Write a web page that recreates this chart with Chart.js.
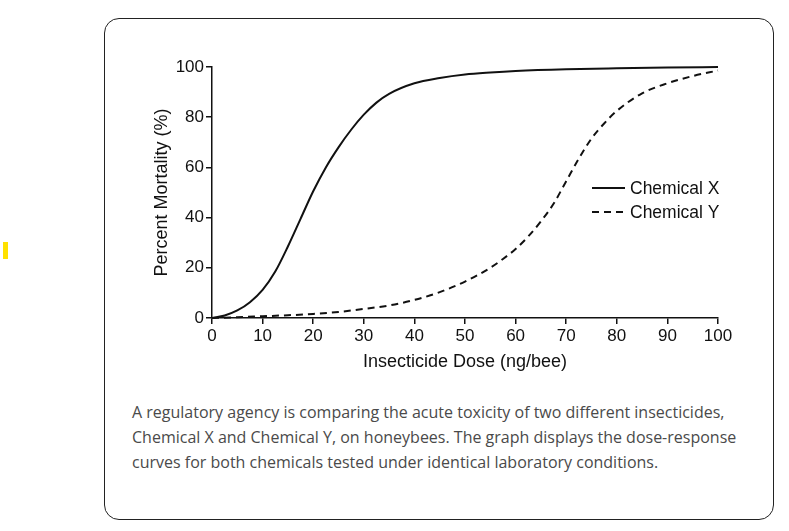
<!DOCTYPE html>
<html>
<head>
<meta charset="utf-8">
<script src="https://cdn.jsdelivr.net/npm/chart.js@4.4.1/dist/chart.umd.min.js"></script>
<style>
  html, body { margin: 0; padding: 0; background: #fff; width: 789px; height: 531px; overflow: hidden; }
  .marca { position: absolute; left: 3px; top: 242px; width: 5px; height: 17px; background: #ffe100; }
  .cartao {
    position: absolute; left: 104px; top: 18px; width: 668px; height: 500px;
    border: 1px solid #222; border-radius: 15px; background: #fff;
  }
  .grafico { position: absolute; left: 140px; top: 40px; width: 600px; height: 340px; }
  .legenda-texto {
    position: absolute; left: 132px; top: 400px; width: 620px;
    font-family: "Open Sans", sans-serif; font-size: 16px; line-height: 25px; color: #4a4a4a;
  }
</style>
</head>
<body>
<div class="marca"></div>
<div class="cartao"></div>
<div class="grafico"><canvas id="graficoDose"></canvas></div>
<div class="legenda-texto">A regulatory agency is comparing the acute toxicity of two different insecticides, Chemical X and Chemical Y, on honeybees. The graph displays the dose-response curves for both chemicals tested under identical laboratory conditions.</div>
<script>
// Dados (dose em ng/bee, mortalidade em %)
const dosesX = [0, 2.5, 5, 7.5, 10, 12.5, 15, 17.5, 20, 22.5, 25, 27.5, 30, 32.5, 35, 40, 45, 50, 55, 60, 70, 80, 90, 100];
const mortalidadeX = [0, 1.0, 3.0, 6.3, 11.2, 18.5, 28.5, 39.5, 50.5, 60, 68, 75, 81, 85.8, 89.3, 93.5, 95.6, 97, 97.8, 98.4, 99.1, 99.5, 99.8, 100];

const dosesY = [0, 5, 10, 15, 20, 25, 30, 35, 40, 45, 50, 55, 57.5, 60, 62.5, 65, 67.5, 70, 72.5, 75, 77.5, 80, 85, 90, 95, 100];
const mortalidadeY = [0, 0.3, 0.7, 1.1, 1.6, 2.4, 3.6, 5.0, 7.2, 10.3, 14.5, 20, 23.5, 27.5, 32.5, 38.5, 45.5, 54.5, 63.5, 71.5, 77.5, 82.5, 89.5, 93.5, 96.4, 98.6];

const ticksX = [0, 10, 20, 30, 40, 50, 60, 70, 80, 90, 100];
const ticksY = [0, 20, 40, 60, 80, 100];

const nomesSeries = ['Chemical X', 'Chemical Y'];

const fonte = '"Liberation Sans", Arial, sans-serif';
const corTexto = '#111';

function pares(xs, ys) {
    return xs.map((x, i) => ({ x: x, y: ys[i] }));
}

// Legenda desenhada dentro da área do gráfico
const legendaInterna = {
    id: 'legendaInterna',
    afterDraw(chart) {
        const { ctx, chartArea } = chart;
        const x0 = chartArea.right - 126;
        const tracos = [[], [7, 5]];
        ctx.save();
        ctx.font = '17.5px ' + fonte;
        ctx.fillStyle = corTexto;
        ctx.textBaseline = 'middle';
        nomesSeries.forEach((nome, i) => {
            const y = chartArea.top + 121 + i * 24;
            ctx.beginPath();
            ctx.setLineDash(tracos[i]);
            ctx.strokeStyle = corTexto;
            ctx.lineWidth = 2;
            ctx.moveTo(x0, y);
            ctx.lineTo(x0 + 33, y);
            ctx.stroke();
            ctx.setLineDash([]);
            ctx.fillText(nome, x0 + 38, y + 1);
        });
        ctx.restore();
    }
};

const ctx = document.getElementById('graficoDose').getContext('2d');

new Chart(ctx, {
    type: 'line',
    data: {
        datasets: [
            {
                label: nomesSeries[0],
                data: pares(dosesX, mortalidadeX),
                borderColor: corTexto,
                borderWidth: 2,
                pointRadius: 0,
                cubicInterpolationMode: 'monotone',
                fill: false,
                clip: false
            },
            {
                label: nomesSeries[1],
                data: pares(dosesY, mortalidadeY),
                borderColor: corTexto,
                borderWidth: 2,
                borderDash: [7, 5],
                pointRadius: 0,
                cubicInterpolationMode: 'monotone',
                fill: false,
                clip: false
            }
        ]
    },
    options: {
        responsive: true,
        maintainAspectRatio: false,
        animation: false,
        layout: { padding: { left: 7, right: 22, top: 27, bottom: 3 } },
        plugins: {
            legend: { display: false },
            tooltip: { enabled: false }
        },
        scales: {
            x: {
                type: 'linear',
                min: 0,
                max: 100,
                afterBuildTicks: (scale) => { scale.ticks = ticksX.map(v => ({ value: v })); },
                afterFit: (scale) => { scale.height = 59; },
                border: { display: true, color: corTexto, width: 1.5 },
                grid: { drawOnChartArea: false, drawTicks: true, tickLength: 6, color: corTexto, lineWidth: 1.5 },
                ticks: { color: corTexto, padding: 2, maxRotation: 0, font: { family: fonte, size: 17 } },
                title: {
                    display: true,
                    text: 'Insecticide Dose (ng/bee)',
                    color: corTexto,
                    font: { family: fonte, size: 18 }
                }
            },
            y: {
                min: 0,
                max: 100,
                afterBuildTicks: (scale) => { scale.ticks = ticksY.map(v => ({ value: v })); },
                afterFit: (scale) => { scale.width = 65; },
                border: { display: true, color: corTexto, width: 1.5 },
                grid: { drawOnChartArea: false, drawTicks: true, tickLength: 6, color: corTexto, lineWidth: 1.5 },
                ticks: { color: corTexto, padding: 2, font: { family: fonte, size: 17 } },
                title: {
                    display: true,
                    text: 'Percent Mortality (%)',
                    color: corTexto,
                    font: { family: fonte, size: 18 }
                }
            }
        }
    },
    plugins: [legendaInterna]
});
</script>
</body>
</html>
